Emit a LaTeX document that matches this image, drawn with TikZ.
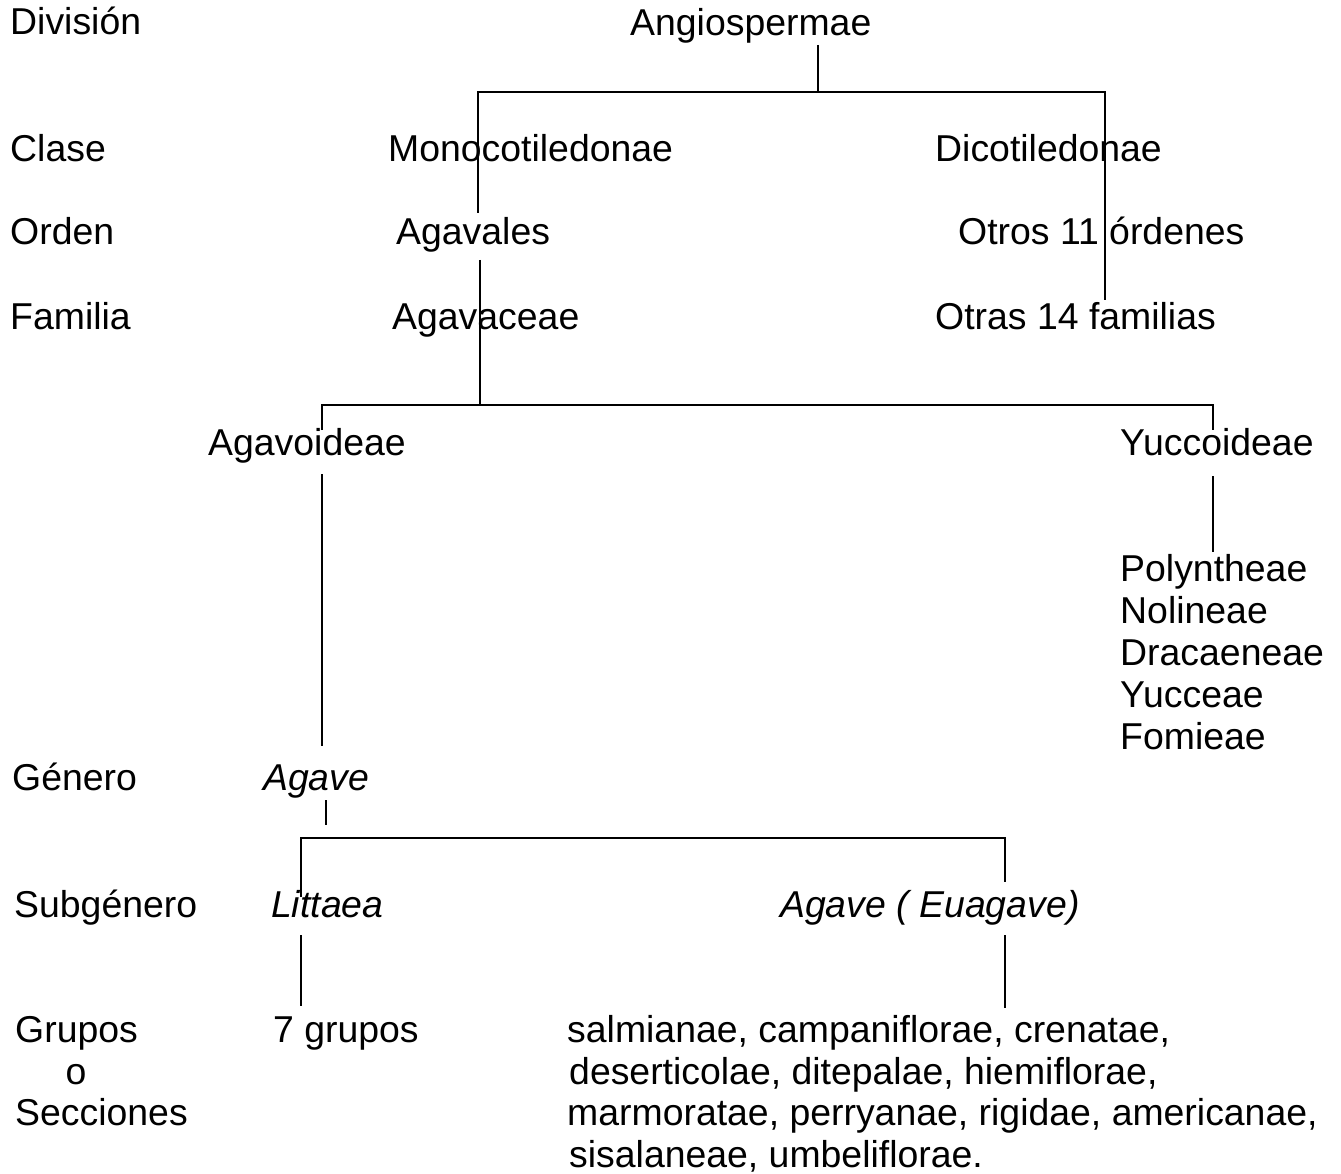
\documentclass[tikz,border=0pt]{standalone}
\usepackage{fontspec}
\setmainfont{Liberation Sans}
\begin{document}
\begin{tikzpicture}[x=1pt,y=-1pt,
  lbl/.style={anchor=base west,inner sep=0pt,font=\fontsize{37.4}{42}\selectfont},
  itl/.style={lbl,font=\fontsize{37.4}{42}\selectfont\itshape},
  conn/.style={line width=1.6pt,black,line cap=butt}]
\useasboundingbox (0,0) rectangle (1341,1174);
% rank labels
\node[lbl] (division) at (10,35) {División};
\node[lbl] (clase) at (10,162) {Clase};
\node[lbl] (orden) at (10,245) {Orden};
\node[lbl] (familia) at (10,329) {Familia};
\node[lbl] (genero) at (12,790) {Género};
\node[lbl] (subgenero) at (14,917) {Subgénero};
\node[lbl] (grupos) at (15,1042) {Grupos};
\node[lbl,anchor=base] (o) at (76,1084) {o};
\node[lbl] (secciones) at (15,1125) {Secciones};
% taxa
\node[lbl] (angio) at (630,36) {Angiospermae};
\node[lbl] (mono) at (388,162) {Monocotiledonae};
\node[lbl] (dico) at (935,162) {Dicotiledonae};
\node[lbl] (agavales) at (396,245) {Agavales};
\node[lbl] (otros) at (958,245) {Otros 11 órdenes};
\node[lbl] (agavaceae) at (392,329) {Agavaceae};
\node[lbl] (otras) at (935,329) {Otras 14 familias};
\node[lbl] (agavoideae) at (208,455) {Agavoideae};
\node[lbl] (yuccoideae) at (1120,455) {Yuccoideae};
\node[lbl] (polyn) at (1120,581) {Polyntheae};
\node[lbl] (nolin) at (1120,623) {Nolineae};
\node[lbl] (draca) at (1120,665) {Dracaeneae};
\node[lbl] (yucce) at (1120,707) {Yucceae};
\node[lbl] (fomie) at (1120,749) {Fomieae};
\node[itl] (agave) at (263,790) {Agave};
\node[itl] (littaea) at (271,917) {Littaea};
\node[itl] (euagave) at (780,917) {Agave ( Euagave)};
\node[lbl] (sieteg) at (273,1042) {7 grupos};
\node[lbl] (sec1) at (567,1042) {salmianae, campaniflorae, crenatae,};
\node[lbl] (sec2) at (569,1084) {deserticolae, ditepalae, hiemiflorae,};
\node[lbl] (sec3) at (567,1125) {marmoratae, perryanae, rigidae, americanae,};
\node[lbl] (sec4) at (569,1167) {sisalaneae, umbeliflorae.};
% junction coordinates
\coordinate (a0) at (818,45);
\coordinate (a1) at (818,92);
\coordinate (m0) at (478,92);
\coordinate (m1) at (478,213);
\coordinate (d0) at (1105,92);
\coordinate (d1) at (1105,300);
\coordinate (g0) at (480,260);
\coordinate (g1) at (480,405);
\coordinate (s0) at (322,405);
\coordinate (s1) at (322,430);
\coordinate (y0) at (1213,405);
\coordinate (y1) at (1213,430);
\coordinate (s2) at (322,474);
\coordinate (s3) at (322,746);
\coordinate (y2) at (1213,476);
\coordinate (y3) at (1213,552);
\coordinate (v0) at (326,800);
\coordinate (v1) at (326,825);
\coordinate (l0) at (301,838);
\coordinate (l1) at (301,897);
\coordinate (e0) at (1005,838);
\coordinate (e1) at (1005,882);
\coordinate (l2) at (301,935);
\coordinate (l3) at (301,1006);
\coordinate (e2) at (1005,935);
\coordinate (e3) at (1005,1008);
% connectors
\draw[conn] (a0) -- (a1);
\draw[conn] (m1) -- (m0) -- (d0) -- (d1);
\draw[conn] (g0) -- (g1);
\draw[conn] (s1) -- (s0) -- (y0) -- (y1);
\draw[conn] (s2) -- (s3);
\draw[conn] (y2) -- (y3);
\draw[conn] (v0) -- (v1);
\draw[conn] (l1) -- (l0) -- (e0) -- (e1);
\draw[conn] (l2) -- (l3);
\draw[conn] (e2) -- (e3);
\end{tikzpicture}
\end{document}
